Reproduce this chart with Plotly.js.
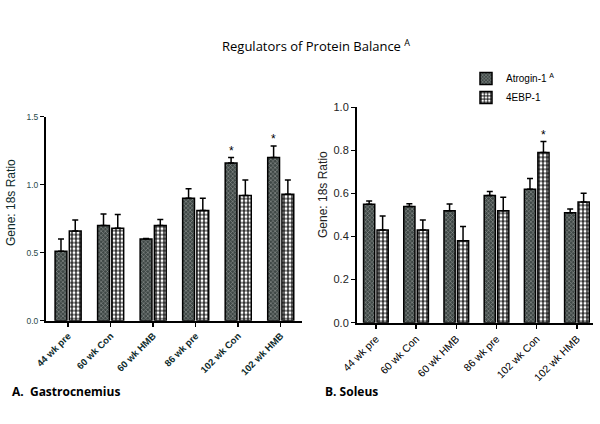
<!DOCTYPE html>
<html>
<head>
<meta charset="utf-8">
<script src="https://cdn.plot.ly/plotly-3.0.1.min.js"></script>
<style>html,body{margin:0;padding:0;background:#fff;}</style>
</head>
<body>
<div id="chart" style="width:600px;height:424px;"></div>
<script>
const categories = ["44 wk pre", "60 wk Con", "60 wk HMB", "86 wk pre", "102 wk Con", "102 wk HMB"];

// A. Gastrocnemius
const gastroAtrogin = [0.51, 0.70, 0.60, 0.90, 1.16, 1.20];
const gastroAtroginErr = [0.09, 0.085, 0.005, 0.07, 0.04, 0.085];
const gastro4EBP = [0.66, 0.68, 0.70, 0.81, 0.92, 0.93];
const gastro4EBPErr = [0.08, 0.10, 0.045, 0.09, 0.115, 0.105];

// B. Soleus
const soleusAtrogin = [0.55, 0.54, 0.52, 0.59, 0.62, 0.51];
const soleusAtroginErr = [0.015, 0.012, 0.031, 0.019, 0.05, 0.018];
const soleus4EBP = [0.43, 0.43, 0.38, 0.52, 0.79, 0.56];
const soleus4EBPErr = [0.065, 0.047, 0.067, 0.062, 0.051, 0.041];

const leftTicks = [0, 0.5, 1.0, 1.5];
const rightTicks = [0, 0.2, 0.4, 0.6, 0.8, 1.0];

// significance markers: [panel, series, category index]
const stars = [["A", "atrogin", 4], ["A", "atrogin", 5], ["B", "4ebp", 4]];

const zeros = categories.map(() => 0);
const atroginStyle = {
  color: "#4d4d4d",
  line: {color: "#000", width: 1.5},
  pattern: {shape: "x", bgcolor: "#3f4846", fgcolor: "#8f9492", size: 3, solidity: 0.35}
};
const ebpStyle = {
  color: "#fff",
  line: {color: "#000", width: 1.5},
  pattern: {shape: "+", bgcolor: "#ffffff", fgcolor: "#000000", size: 4, solidity: 0.5}
};
function errs(arr) {
  return {type: "data", symmetric: false, array: arr, arrayminus: zeros, color: "#000", thickness: 1.5, width: 3};
}

const traces = [
  {type: "bar", x: categories, y: gastroAtrogin, xaxis: "x", yaxis: "y", name: "Atrogin-1 <sup>A</sup>",
   marker: atroginStyle, error_y: errs(gastroAtroginErr), showlegend: false, legendgroup: "a"},
  {type: "bar", x: categories, y: gastro4EBP, xaxis: "x", yaxis: "y", name: "4EBP-1",
   marker: ebpStyle, error_y: errs(gastro4EBPErr), showlegend: false, legendgroup: "b"},
  {type: "bar", x: categories, y: soleusAtrogin, xaxis: "x2", yaxis: "y2", name: "Atrogin-1 <sup>A</sup>",
   marker: atroginStyle, error_y: errs(soleusAtroginErr), legendgroup: "a"},
  {type: "bar", x: categories, y: soleus4EBP, xaxis: "x2", yaxis: "y2", name: "4EBP-1",
   marker: ebpStyle, error_y: errs(soleus4EBPErr), legendgroup: "b"}
];

const annotations = [];
stars.forEach(([panel, series, i]) => {
  let v, e, shift;
  if (panel === "A") {
    v = series === "atrogin" ? gastroAtrogin[i] : gastro4EBP[i];
    e = series === "atrogin" ? gastroAtroginErr[i] : gastro4EBPErr[i];
    shift = series === "atrogin" ? -7 : 7;
  } else {
    v = series === "atrogin" ? soleusAtrogin[i] : soleus4EBP[i];
    e = series === "atrogin" ? soleusAtroginErr[i] : soleus4EBPErr[i];
    shift = series === "atrogin" ? -6.5 : 6.5;
  }
  annotations.push({
    xref: panel === "A" ? "x" : "x2", yref: panel === "A" ? "y" : "y2",
    x: categories[i], y: v + e, text: "*", showarrow: false, xshift: shift, yanchor: "bottom", yshift: -2,
    font: {family: "Arial", size: 12, color: "#000"}
  });
});
annotations.push(
  {xref: "paper", yref: "paper", x: 316/600, y: 1 - 45/424, text: "Regulators of Protein Balance <sup>A</sup>",
   showarrow: false, xanchor: "center", yanchor: "middle", font: {family: "Open Sans", size: 13, color: "#000"}},
  {xref: "paper", yref: "paper", x: 10/600, y: 1 - 391/424, text: "<b>A.  Gastrocnemius</b>",
   showarrow: false, xanchor: "left", yanchor: "middle", font: {family: "Open Sans", size: 12, color: "#000"}},
  {xref: "paper", yref: "paper", x: 323/600, y: 1 - 391/424, text: "<b>B. Soleus</b>",
   showarrow: false, xanchor: "left", yanchor: "middle", font: {family: "Open Sans", size: 12, color: "#000"}},
  {xref: "paper", yref: "paper", x: 11/600, y: 1 - 203/424, text: "Gene: 18s Ratio", textangle: -90,
   showarrow: false, xanchor: "center", yanchor: "middle", font: {family: "Arial", size: 12, color: "#0d2a2a"}},
  {xref: "paper", yref: "paper", x: 323/600, y: 1 - 195/424, text: "Gene: 18s Ratio", textangle: -90,
   showarrow: false, xanchor: "center", yanchor: "middle", font: {family: "Arial", size: 12, color: "#222"}}
);

const axisCommon = {showline: true, linecolor: "#000", linewidth: 2, ticks: "outside", ticklen: 4,
  tickwidth: 1.5, tickcolor: "#000", showgrid: false, zeroline: false, fixedrange: true};

const layout = {
  width: 600, height: 424, autosize: false,
  margin: {l: 0, r: 0, t: 0, b: 0},
  paper_bgcolor: "#fff", plot_bgcolor: "#fff",
  barmode: "group", bargap: 0.33, bargroupgap: 0.17,
  showlegend: true,
  legend: {x: 466/600, y: 1 - 64/424, xanchor: "left", yanchor: "top", bgcolor: "rgba(0,0,0,0)",
    font: {family: "Arial", size: 10, color: "#000"}, tracegroupgap: 0, itemwidth: 30},
  xaxis: Object.assign({}, axisCommon, {domain: [46/600, 302/600], type: "category", range: [-0.52, 5.5],
    tickangle: -45, tickfont: {family: "Arial", size: 9.5, color: "#0d2a2a", weight: "bold"}}),
  yaxis: Object.assign({}, axisCommon, {domain: [1 - 320.7/424, 1 - 116.7/424], range: [0, 1.5],
    tickvals: leftTicks, ticktext: leftTicks.map(v => v.toFixed(1)),
    tickfont: {family: "Arial", size: 8.5, color: "#2a4a4a"}}),
  xaxis2: Object.assign({}, axisCommon, {domain: [357/600, 593/600], type: "category", range: [-0.47, 5.4],
    anchor: "y2", tickangle: -45, tickfont: {family: "Arial", size: 10.5, color: "#000"}}),
  yaxis2: Object.assign({}, axisCommon, {domain: [1 - 322.7/424, 1 - 107.3/424], range: [0, 1.0],
    anchor: "x2", tickvals: rightTicks, ticktext: rightTicks.map(v => v.toFixed(1)),
    tickfont: {family: "Arial", size: 11, color: "#222"}}),
  annotations: annotations
};

Plotly.newPlot("chart", traces, layout, {displayModeBar: false, staticPlot: true});
</script>
</body>
</html>
